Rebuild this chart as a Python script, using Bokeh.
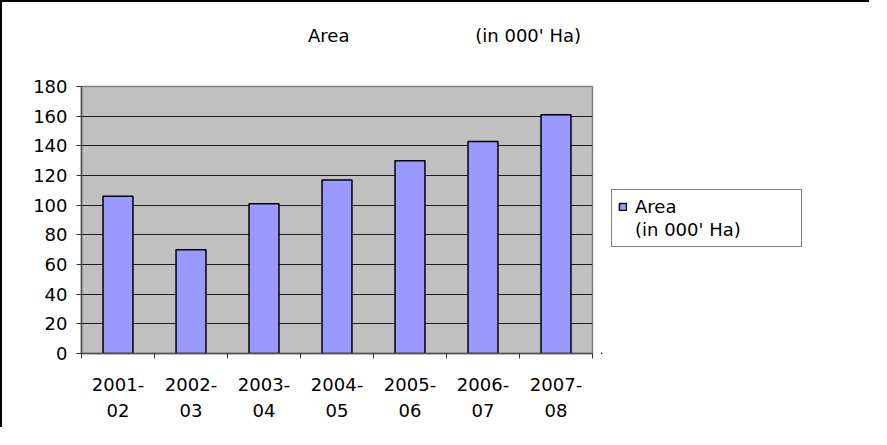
from bokeh.plotting import figure
from bokeh.layouts import row
from bokeh.models import Range1d, FixedTicker, Legend, LegendItem, ColumnDataSource
from bokeh.embed import file_html
from bokeh.resources import INLINE

# ---- data ----
categories = ["2001-02", "2002-03", "2003-04", "2004-05", "2005-06", "2006-07", "2007-08"]
tick_labels = ["2001-\n02", "2002-\n03", "2003-\n04", "2004-\n05", "2005-\n06", "2006-\n07", "2007-\n08"]
area_values = [106, 70, 101, 117, 130, 143, 161]
y_ticks = [0, 20, 40, 60, 80, 100, 120, 140, 160, 180]
title_parts = ["Area", "(in 000' Ha)"]
legend_lines = ["Area", "(in 000' Ha)"]

FONT = "DejaVu Sans"
FS = "18px"
BAR_FILL = "#9999FF"

positions = [i + 0.5 for i in range(len(categories))]
boundaries = list(range(len(categories) + 1))

src = ColumnDataSource(dict(x=positions, top=area_values, cat=categories))

# ---------------- main chart ----------------
p = figure(width=601, height=427, output_backend="svg", toolbar_location=None,
           x_range=Range1d(0, len(categories)), y_range=Range1d(0, 180),
           min_border_left=79, min_border_right=11, min_border_top=84,
           min_border_bottom=76,
           styles={"border-left": "2px solid #000", "border-top": "2px solid #000"})

p.background_fill_color = "#C0C0C0"
p.border_fill_color = "white"
p.outline_line_color = "#808080"
p.outline_line_width = 1.5

r = p.vbar(x="x", top="top", width=0.41, bottom=0, source=src,
           fill_color=BAR_FILL, line_color="#000000", line_width=1.5)

# title: the two parts separated by a wide gap, as in the source
# (an empty second line lifts the text higher above the plot area)
p.title.text = title_parts[0] + "\u00a0" * 22 + title_parts[1] + "\u00a0\u00a0\n"
p.title.align = "right"
p.title.vertical_align = "top"
p.title.text_font = FONT
p.title.text_font_size = FS
p.title.text_font_style = "normal"
p.title.text_color = "#000000"
p.title.standoff = 36

# grid
p.xgrid.visible = False
p.ygrid.ticker = FixedTicker(ticks=y_ticks)
p.ygrid.grid_line_color = "#1a1a1a"
p.ygrid.grid_line_width = 1

# y axis
p.yaxis.ticker = FixedTicker(ticks=y_ticks)
p.yaxis.axis_line_color = "#505050"
p.yaxis.axis_line_width = 1.5
p.yaxis.major_tick_line_color = "#303030"
p.yaxis.major_tick_in = 0
p.yaxis.major_tick_out = 5
p.yaxis.minor_tick_line_color = None
p.yaxis.major_label_text_font = FONT
p.yaxis.major_label_text_font_size = FS
p.yaxis.major_label_text_color = "#000000"
p.yaxis.major_label_standoff = 9

# x axis
p.xaxis.ticker = FixedTicker(ticks=positions, minor_ticks=boundaries)
p.xaxis.major_label_overrides = {pos: lab for pos, lab in zip(positions, tick_labels)}
p.xaxis.axis_line_color = "#505050"
p.xaxis.axis_line_width = 1.5
p.xaxis.major_tick_line_color = None
p.xaxis.major_tick_in = 0
p.xaxis.major_tick_out = 0
p.xaxis.minor_tick_line_color = "#303030"
p.xaxis.minor_tick_in = 0
p.xaxis.minor_tick_out = 5
p.xaxis.major_label_text_font = FONT
p.xaxis.major_label_text_font_size = FS
p.xaxis.major_label_text_color = "#000000"
p.xaxis.major_label_text_line_height = 1.24
p.xaxis.major_label_standoff = 15

# ---------------- legend area (right of the chart) ----------------
# the legend's renderers use the same data, kept out of this panel's view
q = figure(width=268, height=427, output_backend="svg", toolbar_location=None,
           x_range=Range1d(1000, 1001), y_range=Range1d(1000, 1001),
           x_axis_location=None, y_axis_location=None,
           min_border=0, outline_line_color=None,
           styles={"border-top": "2px solid #000"})
q.grid.visible = False
q.background_fill_color = "white"
q.border_fill_color = "white"

lr1 = q.vbar(x="x", top="top", width=0.41, bottom=0, source=src,
             fill_color=BAR_FILL, line_color="#000000", line_width=1.5)
lr2 = q.vbar(x="x", top="top", width=0.41, bottom=0, source=src,
             fill_alpha=0, line_alpha=0)

legend = Legend(items=[LegendItem(label=legend_lines[0], renderers=[lr1]),
                       LegendItem(label=legend_lines[1], renderers=[lr2])],
                location=(10, 106), orientation="vertical",
                border_line_color="#000000", border_line_width=1,
                background_fill_color="white", background_fill_alpha=1,
                label_text_font=FONT, label_text_font_size=FS,
                label_text_color="#000000",
                glyph_width=9, glyph_height=9, label_standoff=8,
                label_height=21, padding=6, margin=0, spacing=2, label_width=160)
q.add_layout(legend, "center")

layout = row(p, q, spacing=0)
open("out.html", "w").write(file_html(layout, INLINE))
